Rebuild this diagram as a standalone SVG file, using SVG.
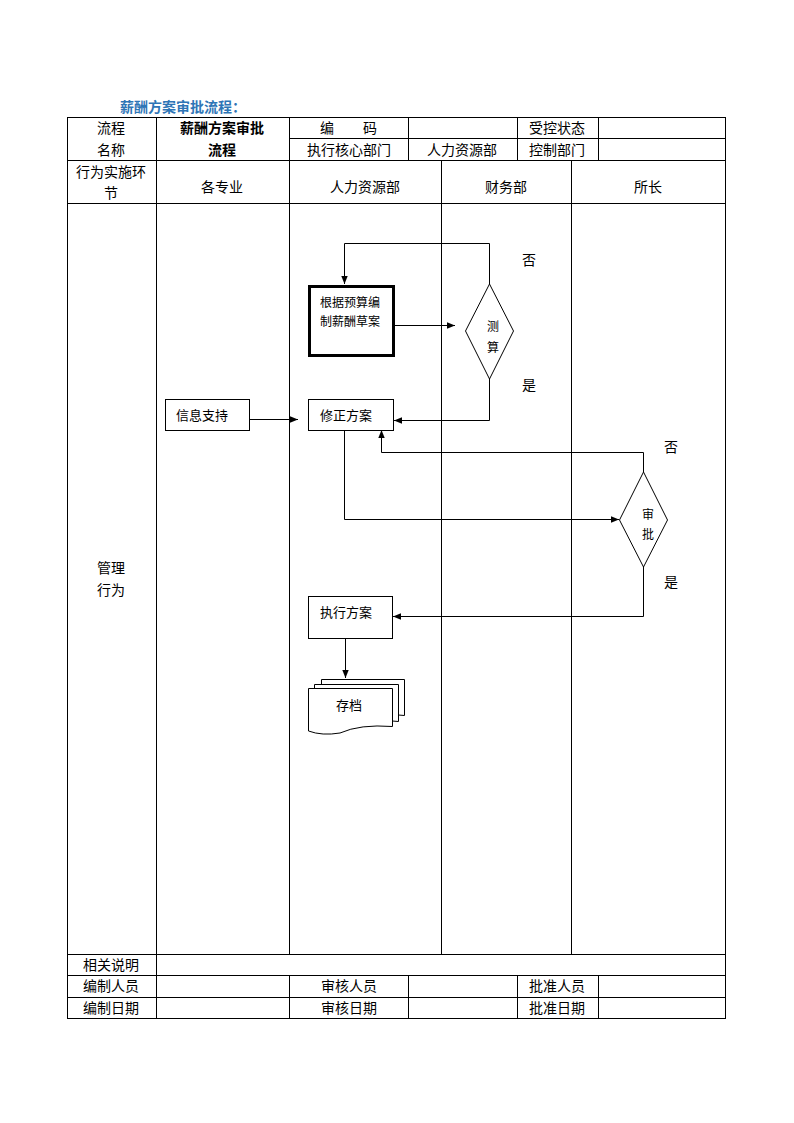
<svg xmlns="http://www.w3.org/2000/svg" width="794" height="1123" viewBox="0 0 794 1123">
<style>
text{font-family:"Liberation Sans","Noto Sans CJK SC",sans-serif;fill:#000}
.t{font-size:14px;text-anchor:middle}
.b{font-size:13px}
.g{stroke:#000;stroke-width:1;fill:none}
.c{stroke:#000;stroke-width:1;fill:none}
.n{fill:#fff;stroke:#000;stroke-width:1}
</style>
<defs>
<marker id="ah" viewBox="0 0 10 10" refX="10" refY="5" markerWidth="8" markerHeight="8" markerUnits="userSpaceOnUse" orient="auto">
<path d="M0,1 L10,5 L0,9 Z" fill="#000"/>
</marker>
</defs>
<rect width="794" height="1123" fill="#fff"/>
<text x="120" y="112" style="font-size:14px;font-weight:bold;fill:#2e75b6">薪酬方案审批流程：</text>
<g id="table">
<rect class="g" x="67.5" y="117.5" width="658" height="901"/>
<path class="g" d="M289.5,138.5H725.5M67.5,160.5H725.5M67.5,203.5H725.5M67.5,954.5H725.5M67.5,975.5H725.5M67.5,997.5H725.5"/>
<path class="g" d="M156.5,117.5V1018.5M289.5,117.5V160.5M408.5,117.5V160.5M517.5,117.5V160.5M598.5,117.5V160.5"/>
<path class="g" d="M289.5,160.5V954.5M441.5,160.5V954.5M571.5,160.5V954.5"/>
<path class="g" d="M289.5,975.5V1018.5M408.5,975.5V1018.5M517.5,975.5V1018.5M598.5,975.5V1018.5"/>
<text class="t" x="111" y="133">流程</text>
<text class="t" x="111" y="155">名称</text>
<text class="t" x="222" y="133" style="font-weight:bold">薪酬方案审批</text>
<text class="t" x="222" y="155" style="font-weight:bold">流程</text>
<text class="t" x="327" y="133">编</text>
<text class="t" x="370" y="133">码</text>
<text class="t" x="557" y="133">受控状态</text>
<text class="t" x="349" y="155">执行核心部门</text>
<text class="t" x="462" y="155">人力资源部</text>
<text class="t" x="557" y="155">控制部门</text>
<text class="t" x="111" y="177">行为实施环</text>
<text class="t" x="111" y="198">节</text>
<text class="t" x="222" y="192">各专业</text>
<text class="t" x="365" y="192">人力资源部</text>
<text class="t" x="506" y="192">财务部</text>
<text class="t" x="648" y="192">所长</text>
<text class="t" x="111" y="573">管理</text>
<text class="t" x="111" y="595">行为</text>
<text class="t" x="111" y="970">相关说明</text>
<text class="t" x="111" y="991">编制人员</text>
<text class="t" x="349" y="991">审核人员</text>
<text class="t" x="557" y="991">批准人员</text>
<text class="t" x="111" y="1013">编制日期</text>
<text class="t" x="349" y="1013">审核日期</text>
<text class="t" x="557" y="1013">批准日期</text>
</g>
<g id="connectors">
<path class="c" d="M394,325.5H455" marker-end="url(#ah)"/>
<path class="c" d="M489.5,284V243.5H344.5V284" marker-end="url(#ah)"/>
<path class="c" d="M489.5,368V420.5H394" marker-end="url(#ah)"/>
<path class="c" d="M250,419.5H298" marker-end="url(#ah)"/>
<path class="c" d="M344.5,430V519.5H619" marker-end="url(#ah)"/>
<path class="c" d="M643.5,472V452.5H381.5V430" marker-end="url(#ah)"/>
<path class="c" d="M643.5,555V616.5H393" marker-end="url(#ah)"/>
<path class="c" d="M345.5,639V678" marker-end="url(#ah)"/>
<text x="529" y="265" class="t">否</text>
<text x="529" y="390" class="t">是</text>
<text x="671" y="452" class="t">否</text>
<text x="671" y="587" class="t">是</text>
</g>
<g id="n_draft">
<rect x="309.5" y="286.5" width="84" height="69" fill="#fff" stroke="#000" stroke-width="3"/>
<text x="320" y="307" style="font-size:12px">根据预算编</text>
<text x="320" y="326" style="font-size:12px">制薪酬草案</text>
</g>
<g id="n_calc">
<path class="n" d="M489.5,284L513.5,331L489.5,379L465.5,331Z"/>
<text x="493" y="331" class="t" style="font-size:12px">测</text>
<text x="493" y="352" class="t" style="font-size:12px">算</text>
</g>
<g id="n_info">
<rect class="n" x="165.5" y="399.5" width="84" height="31"/>
<text x="176" y="420" class="b">信息支持</text>
</g>
<g id="n_revise">
<rect class="n" x="308.5" y="399.5" width="85" height="31"/>
<text x="320" y="420" class="b">修正方案</text>
</g>
<g id="n_approve">
<path class="n" d="M643.5,472L667.5,520L643.5,567L619.5,520Z"/>
<text x="648" y="519" class="t" style="font-size:12px">审</text>
<text x="648" y="539" class="t" style="font-size:12px">批</text>
</g>
<g id="n_exec">
<rect class="n" x="308.5" y="596.5" width="84" height="42"/>
<text x="320" y="617" class="b">执行方案</text>
</g>
<g id="n_archive">
<path class="n" d="M321.5,679.5H404.5V715.5Q396,714 390,716V689H321.5Z"/>
<path class="n" d="M314.5,684.5H398.5V721.5Q390,720 384,722V694H314.5Z"/>
<path class="n" d="M308.5,688.5H392.5V726.5Q360,724 340,733Q322,736 308.5,731Z"/>
<text x="336" y="710" class="b">存档</text>
</g>
</svg>
